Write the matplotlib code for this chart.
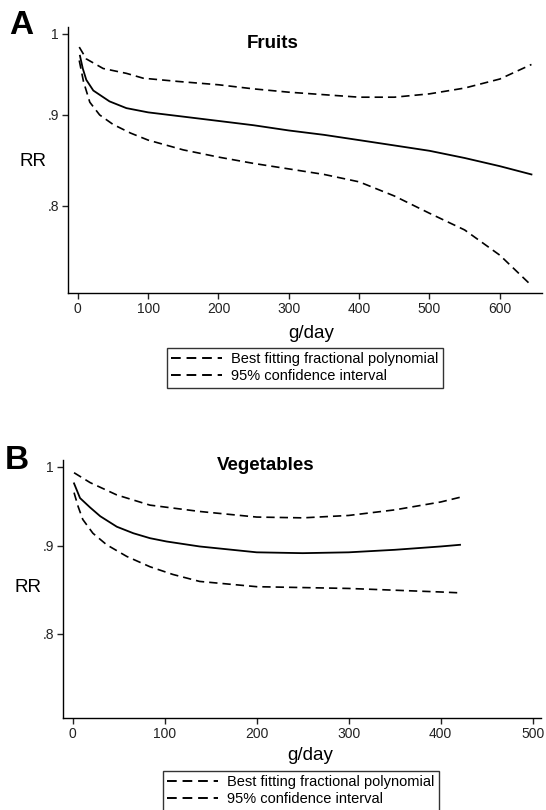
import numpy as np
import matplotlib
matplotlib.use('Agg')
import matplotlib.pyplot as plt
from matplotlib.lines import Line2D

plt.rcParams['font.family'] = ['Liberation Sans', 'DejaVu Sans']

# Panel A: fruits
fruit_g_fit = [3, 7, 12, 22, 45, 69, 100, 150, 200, 250, 300, 350, 400, 450, 500, 550, 600, 645]
fruit_fit = [0.972, 0.956, 0.942, 0.929, 0.916, 0.908, 0.903, 0.898, 0.893, 0.888, 0.882, 0.877,
             0.871, 0.865, 0.859, 0.851, 0.842, 0.833]
fruit_g_up = [2, 12, 36, 69, 93, 143, 200, 250, 300, 350, 400, 450, 500, 550, 600, 645]
fruit_up = [0.983, 0.968, 0.956, 0.950, 0.944, 0.940, 0.936, 0.931, 0.927, 0.924, 0.921, 0.921,
            0.925, 0.932, 0.943, 0.961]
fruit_g_lo = [2, 8, 17, 31, 50, 75, 100, 150, 200, 250, 300, 350, 400, 450, 500, 550, 600, 645]
fruit_lo = [0.966, 0.940, 0.915, 0.900, 0.889, 0.879, 0.871, 0.860, 0.852, 0.845, 0.839, 0.833,
            0.825, 0.810, 0.792, 0.775, 0.750, 0.721]

# Panel B: vegetables
veg_g_fit = [1.5, 8, 19, 30, 48, 66, 84, 102, 138, 200, 250, 300, 350, 400, 421]
veg_fit = [0.978, 0.959, 0.947, 0.936, 0.923, 0.915, 0.909, 0.905, 0.899, 0.892, 0.891, 0.892,
           0.895, 0.899, 0.901]
veg_g_up = [1.5, 19, 48, 84, 138, 200, 250, 300, 350, 400, 421]
veg_up = [0.992, 0.979, 0.963, 0.950, 0.942, 0.935, 0.934, 0.937, 0.944, 0.954, 0.960]
veg_g_lo = [1.5, 6, 11, 22, 37, 59, 84, 109, 138, 200, 250, 300, 350, 400, 421]
veg_lo = [0.966, 0.948, 0.932, 0.915, 0.901, 0.887, 0.875, 0.866, 0.858, 0.852, 0.851, 0.850,
          0.848, 0.846, 0.845]

yticks = [0.8, 0.9, 1.0]
ytick_labels = ['.8', '.9', '1']
legend_labels = ['Best fitting fractional polynomial', '95% confidence interval']

W, H = 546, 810
fig = plt.figure(figsize=(W / 100, H / 100), dpi=100)


def box(l, t, r, b):
    return [l / W, 1 - b / H, (r - l) / W, (b - t) / H]


def fx(x, y):
    return x / W, 1 - y / H


dash = (0, (5, 3))


def panel(rect, gf, f, gu, u, gl, lo, xlim, ylim, xticks):
    ax = fig.add_axes(rect)
    ax.plot(gf, f, color='black', lw=1.3)
    ax.plot(gu, u, color='black', lw=1.2, ls=dash)
    ax.plot(gl, lo, color='black', lw=1.2, ls=dash)
    ax.set_yscale('log')
    ax.set_xlim(xlim)
    ax.set_ylim(ylim)
    ax.set_yticks(yticks)
    ax.set_yticklabels(ytick_labels)
    ax.yaxis.set_minor_locator(matplotlib.ticker.NullLocator())
    ax.set_xticks(xticks)
    ax.set_xticklabels([str(t) for t in xticks])
    for s in ['top', 'right']:
        ax.spines[s].set_visible(False)
    for s in ['left', 'bottom']:
        ax.spines[s].set_linewidth(1.0)
    ax.tick_params(direction='out', length=4.5, width=1, labelsize=10, pad=2, colors='#222222')
    return ax


axA = panel(box(68, 27, 542, 293), fruit_g_fit, fruit_fit, fruit_g_up, fruit_up,
            fruit_g_lo, fruit_lo, (-14, 660), (0.714, 1.009), [0, 100, 200, 300, 400, 500, 600])
axB = panel(box(63, 460, 541, 718), veg_g_fit, veg_fit, veg_g_up, veg_up,
            veg_g_lo, veg_lo, (-10.5, 509), (0.715, 1.009), [0, 100, 200, 300, 400, 500])

fig.text(*fx(21, 25), 'A', fontsize=24, fontweight='bold', ha='center', va='center')
fig.text(*fx(17, 461), 'B', fontsize=24, fontweight='bold', ha='center', va='center')
fig.text(*fx(273, 44), 'Fruits', fontsize=13.5, fontweight='bold', ha='center', va='center')
fig.text(*fx(266, 466), 'Vegetables', fontsize=13.5, fontweight='bold', ha='center', va='center')
fig.text(*fx(33, 162), 'RR', fontsize=13.5, ha='center', va='center')
fig.text(*fx(28, 588), 'RR', fontsize=13.5, ha='center', va='center')
fig.text(*fx(311, 333), 'g/day', fontsize=13.5, ha='center', va='center')
fig.text(*fx(310, 755), 'g/day', fontsize=13.5, ha='center', va='center')

handles = [Line2D([], [], color='black', lw=1.4, ls=dash) for _ in legend_labels]
for (lx, ty) in [(167, 348), (163, 771)]:
    leg = fig.legend(handles, legend_labels, loc='upper left', bbox_to_anchor=fx(lx, ty),
                     fontsize=10.5, frameon=True, fancybox=False, edgecolor='black',
                     handlelength=3.5, labelspacing=0.2, borderpad=0.3, handletextpad=0.6,
                     borderaxespad=0)
    leg.get_frame().set_linewidth(1.0)

plt.savefig('out.png', dpi=100)
